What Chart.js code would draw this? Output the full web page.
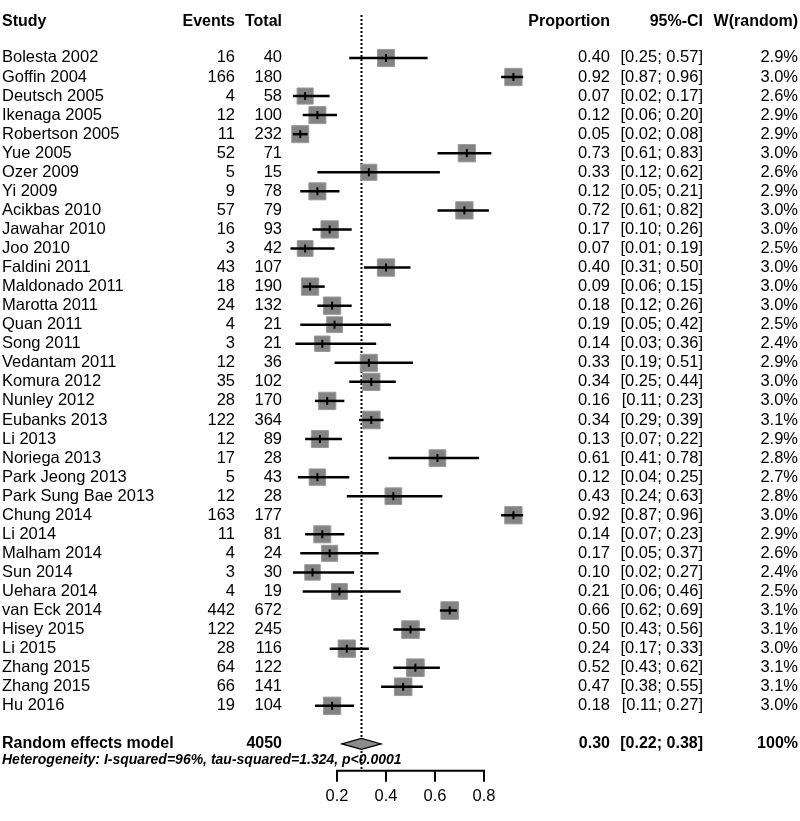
<!DOCTYPE html>
<html lang="en">
<head>
    <meta charset="UTF-8">
    <title>Forest plot</title>
    <script src="https://cdn.jsdelivr.net/npm/chart.js"></script>
    <style>
        body { margin: 0; background: #fff; }
    </style>
</head>
<body>
    <canvas id="forest" width="800" height="821"></canvas>

    <script>
        const studies = ['Bolesta 2002', 'Goffin 2004', 'Deutsch 2005', 'Ikenaga 2005', 'Robertson 2005', 'Yue 2005',
            'Ozer 2009', 'Yi 2009', 'Acikbas 2010', 'Jawahar 2010', 'Joo 2010', 'Faldini 2011', 'Maldonado 2011',
            'Marotta 2011', 'Quan 2011', 'Song 2011', 'Vedantam 2011', 'Komura 2012', 'Nunley 2012', 'Eubanks 2013',
            'Li 2013', 'Noriega 2013', 'Park Jeong 2013', 'Park Sung Bae 2013', 'Chung 2014', 'Li 2014', 'Malham 2014',
            'Sun 2014', 'Uehara 2014', 'van Eck 2014', 'Hisey 2015', 'Li 2015', 'Zhang 2015', 'Zhang 2015', 'Hu 2016'];
        const events = [16, 166, 4, 12, 11, 52, 5, 9, 57, 16, 3, 43, 18, 24, 4, 3, 12, 35, 28, 122, 12, 17, 5, 12,
            163, 11, 4, 3, 4, 442, 122, 28, 64, 66, 19];
        const totals = [40, 180, 58, 100, 232, 71, 15, 78, 79, 93, 42, 107, 190, 132, 21, 21, 36, 102, 170, 364, 89,
            28, 43, 28, 177, 81, 24, 30, 19, 672, 245, 116, 122, 141, 104];
        const proportion = [0.40, 0.92, 0.07, 0.12, 0.05, 0.73, 0.33, 0.12, 0.72, 0.17, 0.07, 0.40, 0.09, 0.18, 0.19,
            0.14, 0.33, 0.34, 0.16, 0.34, 0.13, 0.61, 0.12, 0.43, 0.92, 0.14, 0.17, 0.10, 0.21, 0.66, 0.50, 0.24,
            0.52, 0.47, 0.18];
        const ciLow = [0.25, 0.87, 0.02, 0.06, 0.02, 0.61, 0.12, 0.05, 0.61, 0.10, 0.01, 0.31, 0.06, 0.12, 0.05,
            0.03, 0.19, 0.25, 0.11, 0.29, 0.07, 0.41, 0.04, 0.24, 0.87, 0.07, 0.05, 0.02, 0.06, 0.62, 0.43, 0.17,
            0.43, 0.38, 0.11];
        const ciHigh = [0.57, 0.96, 0.17, 0.20, 0.08, 0.83, 0.62, 0.21, 0.82, 0.26, 0.19, 0.50, 0.15, 0.26, 0.42,
            0.36, 0.51, 0.44, 0.23, 0.39, 0.22, 0.78, 0.25, 0.63, 0.96, 0.23, 0.37, 0.27, 0.46, 0.69, 0.56, 0.33,
            0.62, 0.55, 0.27];
        const weights = [2.9, 3.0, 2.6, 2.9, 2.9, 3.0, 2.6, 2.9, 3.0, 3.0, 2.5, 3.0, 3.0, 3.0, 2.5, 2.4, 2.9, 3.0,
            3.0, 3.1, 2.9, 2.8, 2.7, 2.8, 3.0, 2.9, 2.6, 2.4, 2.5, 3.1, 3.1, 3.0, 3.1, 3.1, 3.0];

        const pooled = { label: 'Random effects model', total: 4050, est: 0.30, low: 0.22, high: 0.38, weight: '100%' };
        const heterogeneity = 'Heterogeneity: I-squared=96%, tau-squared=1.324, p<0.0001';
        const xTicks = [0.2, 0.4, 0.6, 0.8];

        // row positions on the y scale
        const headerRow = -1.93;
        const pooledRow = 36;
        const hetRow = 36.85;
        const axisRow = 37.41;
        const tickLabelRow = 38.78;

        const rows = studies.map((s, i) => i);
        const fmt = v => v.toFixed(2);
        const FONT = '"Liberation Sans", Arial, sans-serif';

        const forestPlugin = {
            id: 'forest',
            beforeDatasetsDraw(chart) {
                const ctx = chart.ctx;
                const xs = chart.scales.x, ys = chart.scales.y;
                // dotted reference line at pooled estimate
                ctx.save();
                ctx.strokeStyle = '#000';
                ctx.lineWidth = 2;
                ctx.setLineDash([2, 2]);
                ctx.beginPath();
                ctx.moveTo(xs.getPixelForValue(pooled.est), 15);
                ctx.lineTo(xs.getPixelForValue(pooled.est), ys.getPixelForValue(axisRow));
                ctx.stroke();
                ctx.restore();
            },
            afterDatasetsDraw(chart) {
                const ctx = chart.ctx;
                const xs = chart.scales.x, ys = chart.scales.y;
                ctx.save();

                // confidence intervals
                ctx.strokeStyle = '#000';
                ctx.lineWidth = 2.5;
                rows.forEach(i => {
                    const y = ys.getPixelForValue(i);
                    ctx.beginPath();
                    ctx.moveTo(xs.getPixelForValue(ciLow[i]), y);
                    ctx.lineTo(xs.getPixelForValue(ciHigh[i]), y);
                    ctx.stroke();
                });

                // point estimate ticks
                ctx.lineWidth = 2;
                rows.forEach(i => {
                    const x = xs.getPixelForValue(proportion[i]);
                    const y = ys.getPixelForValue(i);
                    ctx.beginPath();
                    ctx.moveTo(x, y - 4);
                    ctx.lineTo(x, y + 4);
                    ctx.stroke();
                });

                // pooled diamond
                const py = ys.getPixelForValue(pooledRow);
                ctx.beginPath();
                ctx.moveTo(xs.getPixelForValue(pooled.low), py);
                ctx.lineTo(xs.getPixelForValue(pooled.est), py - 5.5);
                ctx.lineTo(xs.getPixelForValue(pooled.high), py);
                ctx.lineTo(xs.getPixelForValue(pooled.est), py + 5.5);
                ctx.closePath();
                ctx.fillStyle = '#8c8c8c';
                ctx.fill();
                ctx.lineWidth = 1.2;
                ctx.stroke();

                // x axis
                const ay = ys.getPixelForValue(axisRow);
                ctx.lineWidth = 2;
                ctx.beginPath();
                ctx.moveTo(xs.getPixelForValue(xTicks[0]), ay);
                ctx.lineTo(xs.getPixelForValue(xTicks[xTicks.length - 1]), ay);
                xTicks.forEach(t => {
                    ctx.moveTo(xs.getPixelForValue(t), ay - 1);
                    ctx.lineTo(xs.getPixelForValue(t), ay + 11);
                });
                ctx.stroke();
                ctx.fillStyle = '#000';
                ctx.font = '16.5px ' + FONT;
                ctx.textAlign = 'center';
                ctx.textBaseline = 'middle';
                xTicks.forEach(t => ctx.fillText(t.toFixed(1), xs.getPixelForValue(t), ys.getPixelForValue(tickLabelRow)));

                // text columns
                const put = (txt, x, row, align) => {
                    ctx.textAlign = align;
                    ctx.fillText(txt, x, ys.getPixelForValue(row));
                };
                ctx.font = 'bold 16px ' + FONT;
                put('Study', 2, headerRow, 'left');
                put('Events', 235, headerRow, 'right');
                put('Total', 282, headerRow, 'right');
                put('Proportion', 610, headerRow, 'right');
                put('95%-CI', 703, headerRow, 'right');
                put('W(random)', 798, headerRow, 'right');

                ctx.font = '16.5px ' + FONT;
                rows.forEach(i => {
                    put(studies[i], 2, i, 'left');
                    put(String(events[i]), 235, i, 'right');
                    put(String(totals[i]), 282, i, 'right');
                    put(fmt(proportion[i]), 610, i, 'right');
                    put('[' + fmt(ciLow[i]) + '; ' + fmt(ciHigh[i]) + ']', 703, i, 'right');
                    put(weights[i].toFixed(1) + '%', 798, i, 'right');
                });

                ctx.font = 'bold 16px ' + FONT;
                put(pooled.label, 2, pooledRow, 'left');
                put(String(pooled.total), 282, pooledRow, 'right');
                put(fmt(pooled.est), 610, pooledRow, 'right');
                put('[' + fmt(pooled.low) + '; ' + fmt(pooled.high) + ']', 703, pooledRow, 'right');
                put(pooled.weight, 798, pooledRow, 'right');

                ctx.font = 'italic bold 14px ' + FONT;
                put(heterogeneity, 2, hetRow, 'left');

                ctx.restore();
            }
        };

        new Chart(document.getElementById('forest'), {
            type: 'scatter',
            data: {
                datasets: [
                    {
                        label: 'Proportion',
                        data: rows.map(i => ({ x: proportion[i], y: i })),
                        pointStyle: 'rect',
                        pointRadius: weights.map(w => 10 * Math.sqrt(w) / Math.SQRT2),
                        backgroundColor: '#838383',
                        borderColor: '#9a9a9a',
                        borderWidth: 1,
                        clip: false
                    }
                ]
            },
            options: {
                responsive: false,
                animation: false,
                events: [],
                layout: { padding: { left: 288, right: 267, top: 0, bottom: 0 } },
                scales: {
                    x: { type: 'linear', min: 0, max: 1, display: false },
                    y: { type: 'linear', reverse: true, min: -2.335, max: 39.34, display: false }
                },
                plugins: {
                    legend: { display: false },
                    tooltip: { enabled: false }
                }
            },
            plugins: [forestPlugin]
        });
    </script>
</body>
</html>
